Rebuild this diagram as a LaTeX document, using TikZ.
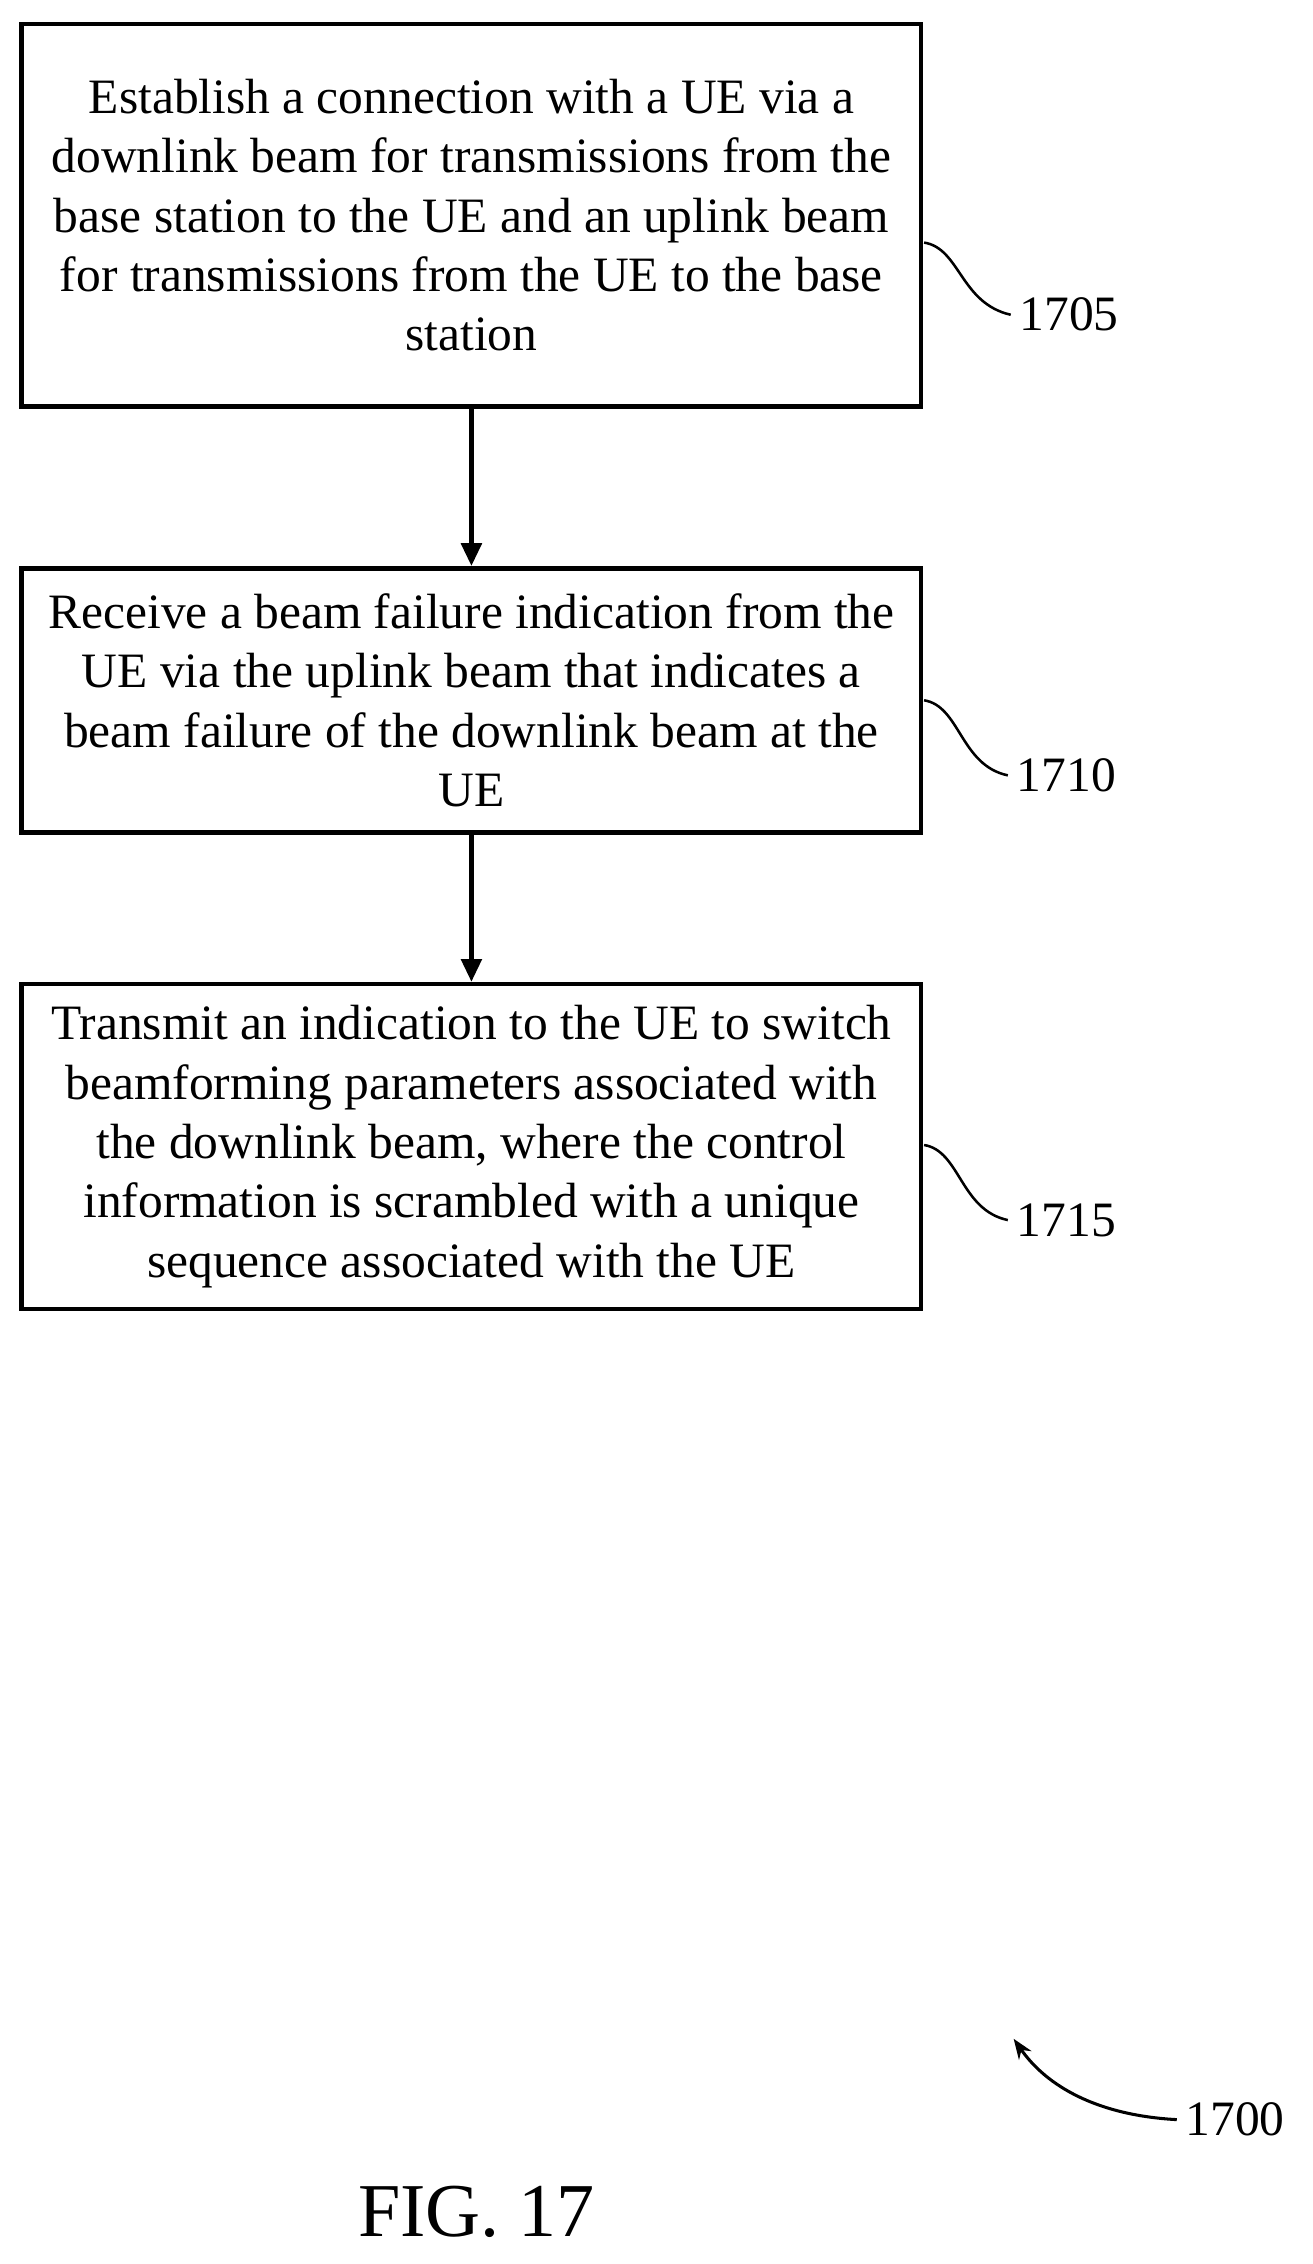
\documentclass[tikz,border=0pt]{standalone}
\usepackage{fontspec}
\setmainfont{Liberation Serif}
\usetikzlibrary{arrows.meta}
\begin{document}
\begin{tikzpicture}[x=0.02cm,y=-0.02cm,
  box/.style={draw,line width=1.8pt,minimum width=623*0.02cm,align=center,
    font=\fontsize{19.5}{23.4}\selectfont,inner sep=0pt,anchor=north},
  lbl/.style={font=\fontsize{19.5}{23.4}\selectfont,anchor=west},
  arr/.style={-{Triangle[length=9pt,width=8pt]},line width=1.8pt},
  sq/.style={line width=1pt}]
\useasboundingbox (0,0) rectangle (909,1568);
\node[box,minimum height=265*0.02cm] (b1) at (326.5,15) {Establish a connection with a UE via a\\downlink beam for transmissions from the\\base station to the UE and an uplink beam\\for transmissions from the UE to the base\\station};
\node[box,minimum height=183*0.02cm] (b2) at (326.5,392) {Receive a beam failure indication from the\\UE via the uplink beam that indicates a\\beam failure of the downlink beam at the\\UE};
\node[box,minimum height=225*0.02cm] (b3) at (326.5,680) {Transmit an indication to the UE to switch\\beamforming parameters associated with\\the downlink beam, where the control\\information is scrambled with a unique\\sequence associated with the UE};
\draw[arr] (b1.south) -- (b2.north);
\draw[arr] (b2.south) -- (b3.north);
\node[lbl] (l1) at (700,218) {1705};
\node[lbl] (l2) at (698,537) {1710};
\node[lbl] (l3) at (698,845) {1715};
\draw[sq] (640,168) .. controls (665,172) and (665,210) .. (l1.west);
\draw[sq] (640,485) .. controls (665,489) and (665,530) .. (l2.west);
\draw[sq] (640,793) .. controls (665,797) and (665,838) .. (l3.west);
\node[lbl] (l4) at (815,1468) {1700};
\coordinate (t) at (702,1412);
\draw[line width=1.2pt,-{Stealth[length=8pt,width=6pt]}] (l4.west) .. controls (760,1465) and (725,1445) .. (t);
\node[font=\fontsize{30}{36}\selectfont] (fig) at (330,1532) {FIG. 17};
\end{tikzpicture}
\end{document}
